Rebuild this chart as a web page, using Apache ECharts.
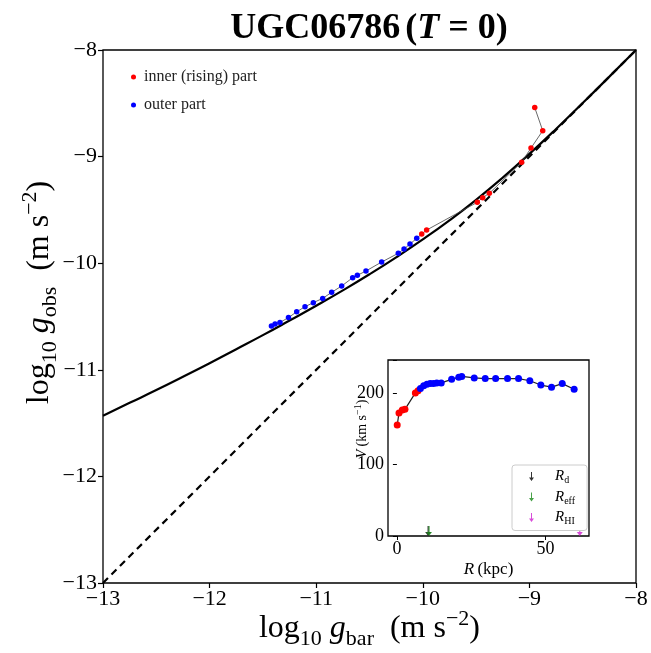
<!DOCTYPE html>
<html>
<head>
<meta charset="utf-8">
<script src="https://cdn.jsdelivr.net/npm/echarts@6/dist/echarts.min.js"></script>
<style>
html,body{margin:0;padding:0;background:#fff;}
#c{width:651px;height:653px;}
</style>
</head>
<body>
<div id="c"></div>
<script>
// ---- Data ----
// RAR model curve (log10 gbar, log10 gobs)
const curveX = [-13, -12.75, -12.5, -12.25, -12, -11.75, -11.5, -11.25, -11, -10.75, -10.5, -10.25, -10, -9.75, -9.5, -9.25, -9, -8.75, -8.5, -8.25, -8];
const curveY = [-11.43, -11.31, -11.19, -11.065, -10.938, -10.807, -10.675, -10.538, -10.399, -10.255, -10.104, -9.945, -9.777, -9.598, -9.405, -9.197, -8.975, -8.741, -8.497, -8.250, -8.0];
// 1:1 line
const oneX = [-13, -8];
const oneY = [-13, -8];
// inner (rising) part, ordered by radius
const innerGbar = [-8.95, -8.875, -8.985, -9.073, -9.376, -9.438, -9.489, -9.964, -10.01];
const innerGobs = [-8.54, -8.757, -8.92, -9.053, -9.344, -9.385, -9.429, -9.689, -9.726];
// outer part, ordered by radius
const outerGbar = [-10.057, -10.12, -10.176, -10.23, -10.386, -10.533, -10.614, -10.658, -10.761, -10.855, -10.939, -11.027, -11.105, -11.183, -11.26, -11.34, -11.386, -11.42];
const outerGobs = [-9.767, -9.82, -9.867, -9.907, -9.989, -10.073, -10.114, -10.136, -10.214, -10.273, -10.33, -10.37, -10.408, -10.456, -10.51, -10.556, -10.57, -10.59];
// rotation curve (inset)
const innerR = [0.1, 0.7, 1.8, 2.7, 6.2, 7.1];
const innerV = [155, 172, 176, 177, 200, 203];
const outerR = [7.9, 9.0, 10.1, 11.2, 12.3, 13.4, 14.9, 18.4, 20.8, 21.8, 26.0, 29.7, 33.2, 37.2, 40.9, 44.7, 48.4, 52.0, 55.6, 59.6];
const outerV = [206, 210, 212, 213, 213, 214, 214, 219, 222, 223, 221, 220, 220, 220, 220, 217, 211, 208, 213, 205];
// characteristic radii (kpc)
const Rd = 10.5;
const Reff = 10.8;
const RHI = 61.5;
// tick labels
const mainTicks = [-13, -12, -11, -10, -9, -8];
const insetXTicks = [0, 50];
const insetYTicks = [0, 100, 200];

// ---- Build ----
const zip = (a, b) => a.map((v, i) => [v, b[i]]);
const allG = zip(innerGbar, innerGobs).concat(zip(outerGbar, outerGobs));
const allRV = zip(innerR, innerV).concat(zip(outerR, outerV));
const SERIF = '"Liberation Serif","DejaVu Serif",serif';
const minus = v => String(v).replace('-', '\u2212');
const arrowPath = 'path://M4,0 L6,0 L6,11 L10,11 L5,18 L0,11 L4,11 Z';

const chart = echarts.init(document.getElementById('c'), null, {renderer: 'canvas'});

const subRich = {
  n: {fontFamily: SERIF, fontSize: 32, color: '#000', lineHeight: 42, verticalAlign: 'middle'},
  i: {fontFamily: SERIF, fontSize: 32, fontStyle: 'italic', color: '#000', lineHeight: 42, verticalAlign: 'middle'},
  s: {fontFamily: SERIF, fontSize: 22, color: '#000', lineHeight: 42, verticalAlign: 'bottom'},
  p: {fontFamily: SERIF, fontSize: 22, color: '#000', lineHeight: 42, verticalAlign: 'top'}
};
const smallRich = {
  n: {fontFamily: SERIF, fontSize: 17, color: '#000', lineHeight: 22, verticalAlign: 'middle'},
  i: {fontFamily: SERIF, fontSize: 17, fontStyle: 'italic', color: '#000', lineHeight: 22, verticalAlign: 'middle'}
};
const legRich = {
  i: {fontFamily: SERIF, fontSize: 15, fontStyle: 'italic', color: '#000', lineHeight: 18, verticalAlign: 'middle'},
  s: {fontFamily: SERIF, fontSize: 10, color: '#000', lineHeight: 18, verticalAlign: 'bottom'}
};

const option = {
  animation: false,
  backgroundColor: '#fff',
  title: {
    text: '{b|UGC06786} {n|(}{i|T}{n| = 0)}',
    left: 364, textAlign: 'center', top: 6,
    textStyle: {
      rich: {
        b: {fontFamily: SERIF, fontSize: 36, fontWeight: 'bold', color: '#000'},
        n: {fontFamily: SERIF, fontSize: 36, color: '#000'},
        i: {fontFamily: SERIF, fontSize: 36, fontStyle: 'italic', color: '#000'}
      }
    }
  },
  legend: [
    {
      data: [
        {name: 'inner (rising) part', icon: 'circle'},
        {name: 'outer part', icon: 'circle'}
      ],
      left: 126, top: 64, orient: 'vertical', itemGap: 12,
      itemWidth: 5, itemHeight: 5,
      textStyle: {fontFamily: SERIF, fontSize: 16, color: '#222', padding: [0, 0, 0, 3]},
      selectedMode: false
    },
    {
      data: [
        {name: 'Rd', icon: arrowPath, itemStyle: {color: '#000'}},
        {name: 'Reff', icon: arrowPath, itemStyle: {color: '#1a8a1a'}},
        {name: 'RHI', icon: arrowPath, itemStyle: {color: '#d020d0'}}
      ],
      left: 512, top: 465, orient: 'vertical', itemGap: 4,
      itemWidth: 5, itemHeight: 9,
      padding: [4, 12, 4, 17],
      backgroundColor: '#fff', borderColor: '#ccc', borderWidth: 1, borderRadius: 3,
      formatter: n => n === 'Rd' ? '{i|R}{s|d}' : (n === 'Reff' ? '{i|R}{s|eff}' : '{i|R}{s|HI}'),
      textStyle: {padding: [0, 0, 0, 16], rich: legRich},
      selectedMode: false, z: 10
    }
  ],
  grid: [
    {left: 103, top: 50, width: 533, height: 533, show: true, borderColor: '#000', borderWidth: 1.3, containLabel: false, outerBoundsMode: 'none'},
    {left: 388, top: 360, width: 201, height: 176, show: true, borderColor: '#000', borderWidth: 1.3, backgroundColor: '#fff', z: 5, containLabel: false, outerBoundsMode: 'none'}
  ],
  xAxis: [
    {
      gridIndex: 0, type: 'value', min: -13, max: -8, interval: 1,
      axisLine: {show: false}, splitLine: {show: false},
      axisTick: {show: true, length: 5, lineStyle: {color: '#000', width: 1.2}},
      axisLabel: {fontFamily: SERIF, fontSize: 22, color: '#000', margin: 5, formatter: minus},
      name: '{n|log}{s|10}{n| }{i|g}{s|bar}{n|  (m s}{p|\u22122}{n|)}',
      nameLocation: 'middle', nameGap: 25, nameMoveOverlap: false,
      nameTextStyle: {rich: subRich}
    },
    {
      gridIndex: 1, type: 'value', min: -3, max: 64.6,
      axisLine: {show: false}, splitLine: {show: false},
      axisTick: {show: true, length: 4, customValues: insetXTicks, lineStyle: {color: '#000', width: 1}},
      axisLabel: {fontFamily: SERIF, fontSize: 18, color: '#000', margin: 4, customValues: insetXTicks},
      name: '{i|R} {n|(kpc)}', nameLocation: 'middle', nameGap: 23,
      nameTextStyle: {rich: smallRich}, z: 6
    }
  ],
  yAxis: [
    {
      gridIndex: 0, type: 'value', min: -13, max: -8, interval: 1,
      axisLine: {show: false}, splitLine: {show: false},
      axisTick: {show: true, length: 5, lineStyle: {color: '#000', width: 1.2}},
      axisLabel: {fontFamily: SERIF, fontSize: 22, color: '#000', margin: 6, formatter: minus},
      name: '{n|log}{s|10}{n| }{i|g}{s|obs}{n|  (m s}{p|\u22122}{n|)}',
      nameLocation: 'middle', nameGap: 42, nameRotate: 90, nameMoveOverlap: false,
      nameTextStyle: {rich: subRich, padding: [0, 0, 0, 48]}
    },
    {
      gridIndex: 1, type: 'value', min: 0, max: 246, interval: 100,
      axisLine: {show: false}, splitLine: {show: false},
      axisTick: {show: true, length: 4, lineStyle: {color: '#000', width: 1}},
      axisLabel: {fontFamily: SERIF, fontSize: 18, color: '#000', margin: 4, customValues: insetYTicks},
      name: '{i|V} {n|(km s}{p|\u22121}{n|)}', nameLocation: 'middle', nameGap: 17, nameRotate: 90, nameMoveOverlap: false,
      nameTextStyle: {padding: [0, 0, 0, 38], rich: {
        n: {fontFamily: SERIF, fontSize: 14, color: '#000', lineHeight: 18, verticalAlign: 'middle'},
        i: {fontFamily: SERIF, fontSize: 14, fontStyle: 'italic', color: '#000', lineHeight: 18, verticalAlign: 'middle'},
        p: {fontFamily: SERIF, fontSize: 10, color: '#000', lineHeight: 18, verticalAlign: 'top'}
      }}, z: 6
    }
  ],
  series: [
    {
      type: 'line', xAxisIndex: 0, yAxisIndex: 0, data: zip(oneX, oneY),
      showSymbol: false, lineStyle: {color: '#000', width: 2.2, type: [7, 5]}, z: 2, silent: true
    },
    {
      type: 'line', xAxisIndex: 0, yAxisIndex: 0, data: zip(curveX, curveY),
      showSymbol: false, smooth: true, lineStyle: {color: '#000', width: 2.2}, z: 3, silent: true
    },
    {
      type: 'line', xAxisIndex: 0, yAxisIndex: 0, data: allG,
      showSymbol: false, lineStyle: {color: '#444', width: 1, opacity: 0.8}, z: 4, silent: true
    },
    {
      name: 'inner (rising) part', type: 'scatter', xAxisIndex: 0, yAxisIndex: 0,
      data: zip(innerGbar, innerGobs), symbolSize: 5.5, itemStyle: {color: '#ff0000', opacity: 1}, z: 5
    },
    {
      name: 'outer part', type: 'scatter', xAxisIndex: 0, yAxisIndex: 0,
      data: zip(outerGbar, outerGobs), symbolSize: 5.5, itemStyle: {color: '#0000ff', opacity: 1}, z: 5
    },
    // inset
    {
      type: 'line', xAxisIndex: 1, yAxisIndex: 1, data: allRV,
      showSymbol: false, lineStyle: {color: '#222', width: 1.2}, z: 6, silent: true
    },
    {
      name: 'inner (rising) part', type: 'scatter', xAxisIndex: 1, yAxisIndex: 1,
      data: zip(innerR, innerV), symbolSize: 7, itemStyle: {color: '#ff0000', opacity: 1}, z: 7
    },
    {
      name: 'outer part', type: 'scatter', xAxisIndex: 1, yAxisIndex: 1,
      data: zip(outerR, outerV), symbolSize: 7, itemStyle: {color: '#0000ff', opacity: 1}, z: 7
    },
    {
      name: 'Rd', type: 'scatter', xAxisIndex: 1, yAxisIndex: 1, data: [[Rd, 0]],
      symbol: arrowPath, symbolSize: [6, 10], symbolOffset: [0, -5], itemStyle: {color: '#000'}, z: 8
    },
    {
      name: 'Reff', type: 'scatter', xAxisIndex: 1, yAxisIndex: 1, data: [[Reff, 0]],
      symbol: arrowPath, symbolSize: [6, 10], symbolOffset: [0, -5], itemStyle: {color: '#1a8a1a'}, z: 9
    },
    {
      name: 'RHI', type: 'scatter', xAxisIndex: 1, yAxisIndex: 1, data: [[RHI, 0]],
      symbol: arrowPath, symbolSize: [6, 10], symbolOffset: [0, -5], itemStyle: {color: '#d020d0'}, z: 9
    }
  ]
};
chart.setOption(option);
</script>
</body>
</html>
